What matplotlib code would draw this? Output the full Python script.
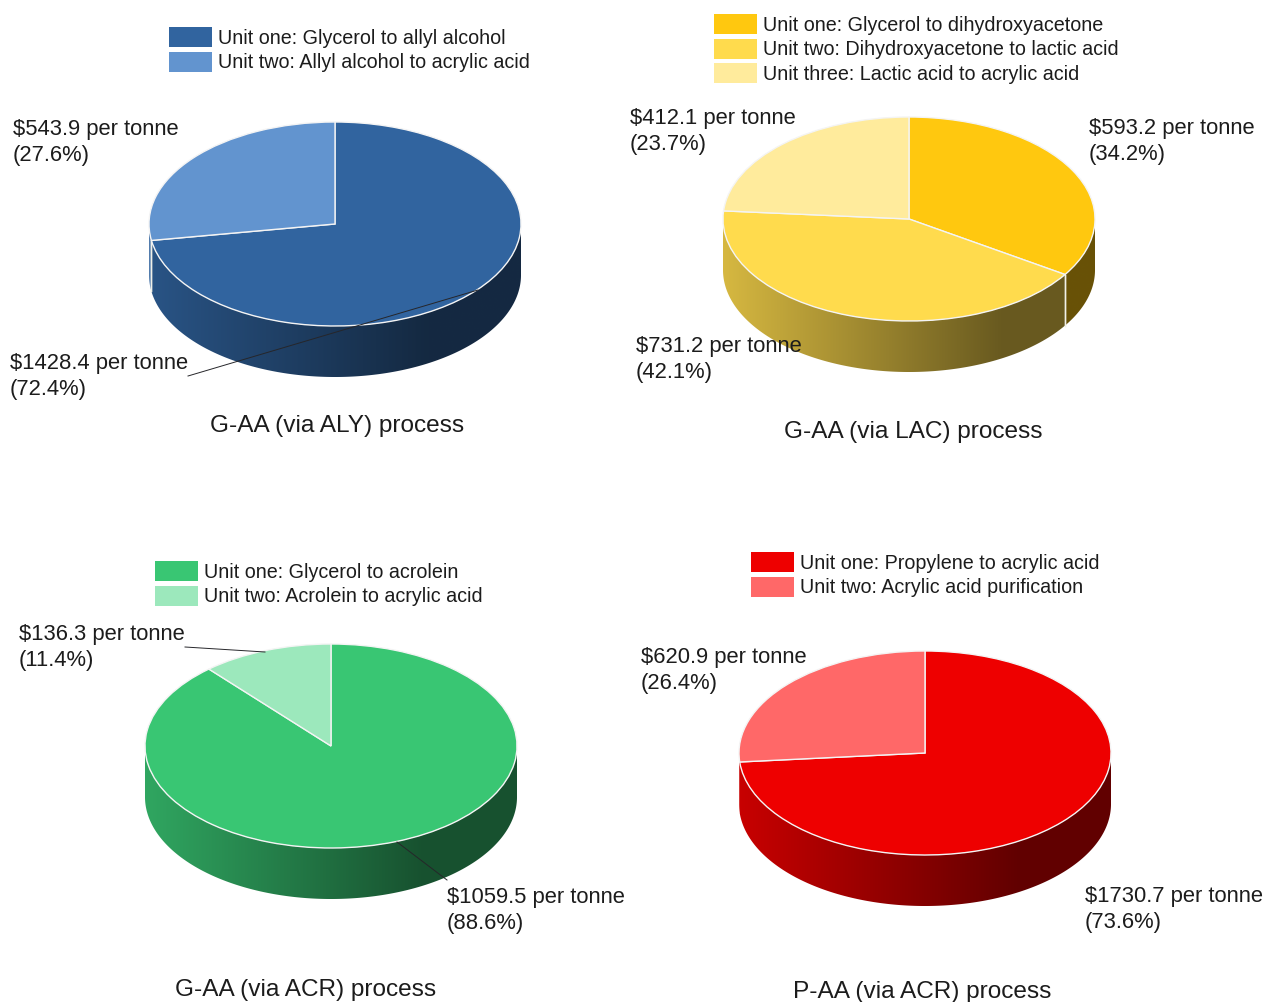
import matplotlib

matplotlib.use("Agg")
import matplotlib.pyplot as plt
import numpy as np
from matplotlib.colors import to_rgb
from matplotlib.patches import Patch, Polygon

plt.rcParams["font.family"] = ["Liberation Sans", "DejaVu Sans"]

# Data
ALY_COSTS = [1428.4, 543.9]
ALY_SHARES = [72.4, 27.6]
ALY_UNITS = ["Unit one: Glycerol to allyl alcohol", "Unit two: Allyl alcohol to acrylic acid"]

LAC_COSTS = [593.2, 731.2, 412.1]
LAC_SHARES = [34.2, 42.1, 23.7]
LAC_UNITS = [
    "Unit one: Glycerol to dihydroxyacetone",
    "Unit two: Dihydroxyacetone to lactic acid",
    "Unit three: Lactic acid to acrylic acid",
]

ACR_COSTS = [1059.5, 136.3]
ACR_SHARES = [88.6, 11.4]
ACR_UNITS = ["Unit one: Glycerol to acrolein", "Unit two: Acrolein to acrylic acid"]

PAA_COSTS = [1730.7, 620.9]
PAA_SHARES = [73.6, 26.4]
PAA_UNITS = ["Unit one: Propylene to acrylic acid", "Unit two: Acrylic acid purification"]

TITLES = [
    "G-AA (via ALY) process",
    "G-AA (via LAC) process",
    "G-AA (via ACR) process",
    "P-AA (via ACR) process",
]

# Layout, all in pixels of the 1264x1002 picture
W, H = 1264, 1002
RX, RY, DEPTH = 186, 102, 51
TEXT_COLOR = "#1c1c1c"
LABEL_SIZE = 15.8
LEGEND_SIZE = 14.2
TITLE_SIZE = 17.6

PANELS = [
    dict(
        costs=ALY_COSTS, shares=ALY_SHARES, units=ALY_UNITS, title=TITLES[0],
        colors=["#31649f", "#6294cf"], center=(335, 224),
        legend=(169, 27), title_pos=(337, 426),
        labels=[(10, 362), (13, 128)],
        leaders=[((188, 376), (478, 290))],
    ),
    dict(
        costs=LAC_COSTS, shares=LAC_SHARES, units=LAC_UNITS, title=TITLES[1],
        colors=["#ffc80f", "#ffdb4d", "#ffeb9c"], center=(909, 219),
        legend=(714, 14), title_pos=(913, 432),
        labels=[(1089, 127), (636, 345), (630, 117)],
        leaders=[],
    ),
    dict(
        costs=ACR_COSTS, shares=ACR_SHARES, units=ACR_UNITS, title=TITLES[2],
        colors=["#39c673", "#9ce8bc"], center=(331, 746),
        legend=(155, 561), title_pos=(306, 990),
        labels=[(447, 896), (19, 633)],
        leaders=[((447, 880), (397, 842)), ((185, 647), (265, 652))],
    ),
    dict(
        # the side of this pie keeps the dark red all the way to the left edge
        costs=PAA_COSTS, shares=PAA_SHARES, units=PAA_UNITS, title=TITLES[3],
        colors=["#ee0000", "#ff6868"], center=(925, 753),
        legend=(751, 552), title_pos=(922, 992),
        labels=[(1085, 895), (641, 656)],
        leaders=[], wall_colors=["#ee0000", "#ee0000"], seams=False,
    ),
]


def wall_shade(color):
    """Horizontal gradient of the pie side: darker towards the right."""
    xs = np.linspace(-1, 1, 256)
    factor = np.interp(xs, [-1, 0.5], [0.84, 0.41])
    return (np.array(to_rgb(color))[None, None, :] * factor[None, :, None]).clip(0, 1)


def draw_pie(fig, panel):
    cx, cy = panel["center"]
    d = DEPTH / RY
    left = (cx - RX) / W
    bottom = 1 - (cy + RY + DEPTH) / H
    ax = fig.add_axes([left, bottom, 2 * RX / W, (2 * RY + DEPTH) / H])

    wedges, _ = ax.pie(
        panel["costs"],
        colors=panel["colors"],
        startangle=90,
        counterclock=False,
        radius=1,
        wedgeprops=dict(edgecolor="#f4f4f4", linewidth=1.0, zorder=3),
    )

    angles = np.linspace(180, 360, 721)
    wall_colors = panel.get("wall_colors", panel["colors"])
    for wedge, color in zip(wedges, wall_colors):
        inside = ((angles - wedge.theta1) % 360) <= (wedge.theta2 - wedge.theta1)
        if not inside.any():
            continue
        a = np.radians(angles[inside])
        top = np.column_stack([np.cos(a), np.sin(a)])
        low = np.column_stack([np.cos(a), np.sin(a) - d])[::-1]
        shape = Polygon(np.vstack([top, low]), closed=True, facecolor="none", edgecolor="none")
        ax.add_patch(shape)
        img = ax.imshow(
            wall_shade(color), extent=(-1, 1, -1 - d, 1), aspect="auto", zorder=1
        )
        img.set_clip_path(shape)

        if not panel.get("seams", True):
            continue
        # white seam where a slice ends on the front of the pie
        for theta in (wedge.theta1, wedge.theta2):
            t = np.radians(theta)
            if np.sin(t) < 0:
                ax.plot(
                    [np.cos(t)] * 2, [np.sin(t), np.sin(t) - d],
                    color="#f0f0e8", lw=1.0, zorder=2, clip_on=False,
                )

    ax.set_aspect("auto")
    ax.set_xlim(-1, 1)
    ax.set_ylim(-1 - d, 1)
    ax.axis("off")


def draw_annotations(ov, panel):
    fpx = LEGEND_SIZE * 100 / 72
    handles = [Patch(facecolor=c, edgecolor="none") for c in panel["colors"]]
    leg = ov.legend(
        handles,
        panel["units"],
        loc="upper left",
        bbox_to_anchor=panel["legend"],
        bbox_transform=ov.transData,
        frameon=False,
        fontsize=LEGEND_SIZE,
        borderpad=0,
        borderaxespad=0,
        handlelength=43 / fpx,
        handleheight=(20 / fpx - 0.245) / 0.65,
        handletextpad=6 / fpx,
        labelspacing=0.2,
        labelcolor=TEXT_COLOR,
    )
    ov.add_artist(leg)
    ov.legend_ = None

    for cost, share, pos in zip(panel["costs"], panel["shares"], panel["labels"]):
        ov.text(
            pos[0], pos[1] - 9, f"\\${cost} per tonne\n({share}%)",
            fontsize=LABEL_SIZE, color=TEXT_COLOR, ha="left", va="top",
            linespacing=1.34,
        )

    ov.text(
        panel["title_pos"][0], panel["title_pos"][1], panel["title"],
        fontsize=TITLE_SIZE, color=TEXT_COLOR, ha="center", va="center",
    )

    for start, end in panel["leaders"]:
        ov.plot([start[0], end[0]], [start[1], end[1]], color="#26262a", lw=0.7)


fig = plt.figure(figsize=(W / 100, H / 100), dpi=100, facecolor="white")

for panel in PANELS:
    draw_pie(fig, panel)

ov = fig.add_axes([0, 0, 1, 1], zorder=5)
ov.set_xlim(0, W)
ov.set_ylim(H, 0)
ov.axis("off")
ov.patch.set_visible(False)

for panel in PANELS:
    draw_annotations(ov, panel)

fig.savefig("out.png", dpi=100, facecolor="white")
